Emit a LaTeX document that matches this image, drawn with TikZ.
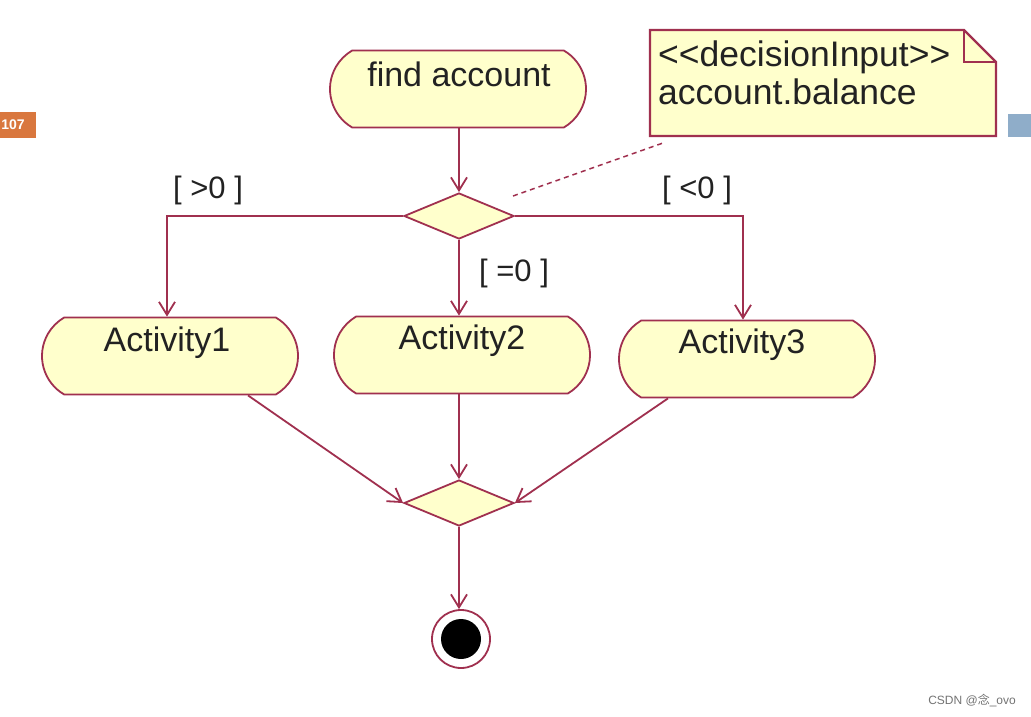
\documentclass[tikz,border=0pt]{standalone}
\usepackage{fontspec}
\setmainfont{Liberation Sans}
\newfontfamily\cjk{Noto Sans CJK SC}
\usetikzlibrary{shapes.misc,shapes.geometric,arrows.meta}
\definecolor{umlline}{HTML}{A0304F}
\definecolor{umlfill}{HTML}{FFFFCC}
\definecolor{umltext}{HTML}{222222}
\definecolor{slideorange}{HTML}{D9773E}
\definecolor{slideblue}{HTML}{8FADC9}
\tikzset{
  act/.style={rounded rectangle, rounded rectangle arc length=120, draw=umlline, line width=1.8pt,
     fill=umlfill, minimum width=256pt, minimum height=77pt, inner sep=0pt},
  acttext/.style={text=umltext, font=\fontsize{34}{36}\selectfont, inner sep=0pt},
  decide/.style={diamond, draw=umlline, line width=1.8pt, fill=umlfill, minimum width=110pt,
     minimum height=46pt, inner sep=0pt},
  flow/.style={draw=umlline, line width=1.8pt, -{Straight Barb[length=13pt,width=16pt,line width=1.8pt]}},
  guard/.style={text=umltext, font=\fontsize{31}{34}\selectfont, inner sep=0pt},
  notetext/.style={text=umltext, font=\fontsize{35.5}{38}\selectfont, inner sep=0pt, anchor=west},
}
\begin{document}
\begin{tikzpicture}[x=1pt,y=-1pt]
\useasboundingbox[fill=white] (0,0) rectangle (1031,717);

% slide decorations
\fill[slideorange] (0,112) rectangle (36,138);
\node[text=white, font=\bfseries\fontsize{14}{16}\selectfont, inner sep=0pt] (pagenum) at (13,125) {107};
\fill[slideblue] (1008,114) rectangle (1031,137);

% note
\path[draw=umlline, line width=2.2pt, fill=umlfill, line join=miter]
  (650,30) -- (964,30) -- (996,62) -- (996,136) -- (650,136) -- cycle;
\draw[umlline, line width=1.8pt] (964,30) -- (964,62) -- (996,62);
\node[notetext] (note1) at (658,57) {<\kern0pt<decisionInput>\kern0pt>};
\node[notetext] (note2) at (658,92) {account.balance};

% nodes
\node[act] (find) at (458,89) {};
\node[acttext] (findt) at (459,74) {find account};
\node[decide] (d1) at (459,216) {};
\node[act] (a1) at (170,356) {};
\node[acttext] (a1t) at (167,343) {Activity1};
\node[act] (a2) at (462,355) {};
\node[acttext] (a2t) at (462,341) {Activity2};
\node[act] (a3) at (747,359) {};
\node[acttext] (a3t) at (742,345) {Activity3};
\node[decide] (d2) at (459,503) {};
\node[circle, draw=umlline, line width=1.8pt, fill=white, minimum size=58pt, inner sep=0pt] (final) at (461,639) {};
\node[circle, fill=black, minimum size=40pt, inner sep=0pt] (finaldot) at (461,639) {};

% guards
\node[guard] (g1) at (208,190) {[ >0 ]};
\node[guard] (g2) at (514,273) {[ =0 ]};
\node[guard] (g3) at (697,190) {[ <0 ]};

% connectors
\draw[flow] (find.south -| d1.north) -- (d1.north);
\draw[flow] (d1.west) -| ([xshift=-3pt]a1.north);
\draw[flow] (d1.south) -- (d1.south |- a2.north);
\draw[flow] (d1.east) -| ([xshift=-4pt]a3.north);
\draw[flow] ([xshift=78pt]a1.south) -- (d2.west);
\draw[flow] (a2.south -| d2.north) -- (d2.north);
\draw[flow] ([xshift=-79pt]a3.south) -- (d2.east);
\draw[flow] (d2.south) -- (d2.south |- final.north);

% note anchor
\coordinate (dashA) at (513,196);
\coordinate (dashB) at (663,143);
\draw[umlline, line width=1.5pt, dash pattern=on 5pt off 4pt] (dashA) -- (dashB);

% watermark
\node[text=black!55, font=\fontsize{12}{14}\selectfont, inner sep=0pt, anchor=east] (wm) at (1016,701) {CSDN @{\cjk 念}\_ovo};
\end{tikzpicture}
\end{document}
